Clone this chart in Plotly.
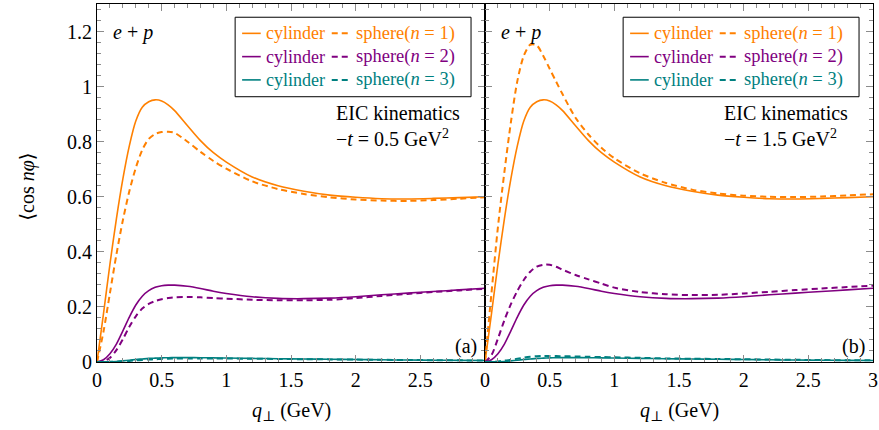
import plotly.graph_objects as go
from plotly.subplots import make_subplots

# ---------------- data ----------------
q = [0, 0.05, 0.1, 0.15, 0.2, 0.25, 0.3, 0.35, 0.4, 0.45, 0.5, 0.55, 0.6, 0.7, 0.8, 0.9,
     1.0, 1.2, 1.4, 1.6, 1.8, 2.0, 2.2, 2.4, 2.6, 2.8, 3.0]

# panel (a): -t = 0.5 GeV^2
cyl1_a = [0, 0.175, 0.355, 0.52, 0.665, 0.785, 0.875, 0.925, 0.945, 0.952, 0.948, 0.934, 0.913,
          0.858, 0.804, 0.76, 0.726, 0.672, 0.64, 0.62, 0.606, 0.598, 0.593, 0.592, 0.594, 0.597, 0.600]
sph1_a = [0, 0.11, 0.25, 0.39, 0.515, 0.62, 0.705, 0.77, 0.81, 0.828, 0.835, 0.836, 0.832,
          0.8, 0.763, 0.73, 0.702, 0.656, 0.628, 0.61, 0.598, 0.59, 0.586, 0.585, 0.588, 0.593, 0.598]
cyl2_a = [0, 0.008, 0.03, 0.065, 0.113, 0.163, 0.207, 0.239, 0.259, 0.271, 0.277, 0.279, 0.279,
          0.275, 0.267, 0.257, 0.249, 0.237, 0.231, 0.230, 0.232, 0.237, 0.244, 0.25, 0.256, 0.262, 0.268]
sph2_a = [0, 0.003, 0.015, 0.043, 0.083, 0.128, 0.166, 0.194, 0.211, 0.221, 0.228, 0.232, 0.235,
          0.236, 0.235, 0.232, 0.23, 0.226, 0.224, 0.224, 0.226, 0.232, 0.24, 0.247, 0.254, 0.26, 0.266]
cyl3_a = [0, 0.0003, 0.001, 0.002, 0.004, 0.0065, 0.009, 0.011, 0.013, 0.014, 0.015, 0.0157, 0.016,
          0.016, 0.0155, 0.015, 0.0145, 0.013, 0.012, 0.011, 0.010, 0.009, 0.008, 0.007, 0.0065, 0.006, 0.0055]
sph3_a = [0, 0.0001, 0.0005, 0.001, 0.002, 0.004, 0.006, 0.0075, 0.009, 0.010, 0.011, 0.012, 0.0125,
          0.013, 0.013, 0.0128, 0.0125, 0.012, 0.011, 0.0102, 0.0095, 0.0088, 0.008, 0.0072, 0.0066, 0.006, 0.0055]

# panel (b): -t = 1.5 GeV^2
cyl1_b = [0, 0.175, 0.355, 0.52, 0.665, 0.785, 0.875, 0.925, 0.945, 0.952, 0.948, 0.934, 0.913,
          0.858, 0.804, 0.76, 0.726, 0.672, 0.64, 0.62, 0.606, 0.598, 0.593, 0.592, 0.594, 0.597, 0.600]
sph1_b = [0, 0.25, 0.49, 0.69, 0.87, 1.02, 1.112, 1.152, 1.15, 1.112, 1.065, 1.018, 0.972,
          0.887, 0.826, 0.778, 0.74, 0.685, 0.65, 0.626, 0.612, 0.604, 0.600, 0.599, 0.601, 0.605, 0.609]
cyl2_b = [0, 0.008, 0.03, 0.065, 0.113, 0.163, 0.207, 0.239, 0.259, 0.271, 0.277, 0.279, 0.279,
          0.275, 0.267, 0.257, 0.249, 0.237, 0.231, 0.230, 0.232, 0.237, 0.244, 0.25, 0.256, 0.262, 0.268]
sph2_b = [0, 0.025, 0.085, 0.152, 0.21, 0.258, 0.298, 0.328, 0.346, 0.353, 0.353, 0.346, 0.335,
          0.316, 0.3, 0.285, 0.27, 0.254, 0.246, 0.243, 0.244, 0.249, 0.255, 0.261, 0.267, 0.272, 0.277]
cyl3_b = [0, 0.0003, 0.001, 0.002, 0.004, 0.0065, 0.009, 0.011, 0.013, 0.014, 0.015, 0.0157, 0.016,
          0.016, 0.0155, 0.015, 0.0145, 0.013, 0.012, 0.011, 0.010, 0.009, 0.008, 0.007, 0.0065, 0.006, 0.0055]
sph3_b = [0, 0.0005, 0.002, 0.005, 0.008, 0.012, 0.016, 0.019, 0.021, 0.022, 0.022, 0.0215, 0.021,
          0.020, 0.019, 0.018, 0.017, 0.015, 0.013, 0.012, 0.011, 0.010, 0.009, 0.008, 0.007, 0.0065, 0.006]

x_ticks_a = [0, 0.5, 1, 1.5, 2, 2.5]
x_ticks_b = [0, 0.5, 1, 1.5, 2, 2.5, 3]
y_ticks = [0, 0.2, 0.4, 0.6, 0.8, 1.0, 1.2]
y_ticklabels = ["0", "0.2", "0.4", "0.6", "0.8", "1", "1.2"]
t_values = ["0.5", "1.5"]
panel_tags = ["(a)", "(b)"]

ORANGE = "#ff8000"
PURPLE = "#800080"
TEAL = "#008080"
colors = [ORANGE, PURPLE, TEAL]
FONT = "Liberation Serif, DejaVu Serif, serif"
DASH = "6px,4px"

fig = make_subplots(rows=1, cols=2, shared_yaxes=True, horizontal_spacing=0)

panels = [
    [(cyl1_a, sph1_a), (cyl2_a, sph2_a), (cyl3_a, sph3_a)],
    [(cyl1_b, sph1_b), (cyl2_b, sph2_b), (cyl3_b, sph3_b)],
]
for col, series in enumerate(panels, start=1):
    for (cyl, sph), c in zip(series, colors):
        fig.add_trace(go.Scatter(x=q, y=cyl, mode="lines", line=dict(color=c, width=1.6, shape="spline", smoothing=0.8),
                                 showlegend=False, hoverinfo="skip"), row=1, col=col)
        fig.add_trace(go.Scatter(x=q, y=sph, mode="lines", line=dict(color=c, width=2, dash=DASH, shape="spline", smoothing=0.8),
                                 showlegend=False, hoverinfo="skip"), row=1, col=col)

axis_common = dict(
    showline=True, linecolor="black", linewidth=1, mirror="allticks",
    ticks="inside", ticklen=7, tickcolor="#8c8c8c", tickwidth=1,
    showgrid=False, zeroline=False, automargin=False,
    tickfont=dict(family=FONT, size=20, color="black"),
)
fig.update_xaxes(**axis_common, range=[0, 3],
                 minor=dict(ticks="inside", ticklen=4, tickcolor="#8c8c8c", dtick=0.1, showgrid=False))
fig.update_xaxes(tickvals=x_ticks_a, ticktext=[f"{v:g}" for v in x_ticks_a], row=1, col=1)
fig.update_xaxes(tickvals=x_ticks_b, ticktext=[f"{v:g}" for v in x_ticks_b], row=1, col=2)
fig.update_yaxes(**axis_common, range=[0, 1.3], tickvals=y_ticks, ticktext=y_ticklabels,
                 minor=dict(ticks="inside", ticklen=4, tickcolor="#8c8c8c", dtick=0.04, tick0=0, showgrid=False))
fig.update_yaxes(showticklabels=False, row=1, col=2)

shapes = []
annotations = []
row_y = [0.918, 0.853, 0.788]
for p, (xr, yr) in enumerate([("x domain", "y domain"), ("x2 domain", "y2 domain")]):
    shapes.append(dict(type="rect", xref=xr, yref=yr, x0=0.356, x1=0.964, y0=0.741, y1=0.963,
                       line=dict(color="black", width=1), fillcolor="white", layer="above"))
    for i, (yy, c) in enumerate(zip(row_y, colors)):
        shapes.append(dict(type="line", xref=xr, yref=yr, x0=0.374, x1=0.422, y0=yy, y1=yy,
                           line=dict(color=c, width=1.6), layer="above"))
        shapes.append(dict(type="line", xref=xr, yref=yr, x0=0.605, x1=0.654, y0=yy, y1=yy,
                           line=dict(color=c, width=2, dash=DASH), layer="above"))
        annotations.append(dict(xref=xr, yref=yr, x=0.431, y=yy, text="cylinder", showarrow=False,
                                xanchor="left", yanchor="middle", font=dict(family=FONT, size=18, color=c)))
        annotations.append(dict(xref=xr, yref=yr, x=0.662, y=yy, text=f"sphere(<i>n</i> = {i+1})", showarrow=False,
                                xanchor="left", yanchor="middle", font=dict(family=FONT, size=18.5, color=c)))
    annotations.append(dict(xref=xr, yref=yr, x=0.036, y=0.919, text="<i>e</i> + <i>p</i>", showarrow=False,
                            xanchor="left", yanchor="middle", font=dict(family=FONT, size=20, color="black")))
    annotations.append(dict(xref=xr, yref=yr, x=0.611, y=0.658,
                            text=f"EIC kinematics<br>−<i>t</i> = {t_values[p]} GeV<sup>2</sup>",
                            showarrow=False, xanchor="left", yanchor="middle", align="left",
                            font=dict(family=FONT, size=20, color="black")))
    annotations.append(dict(xref=xr, yref=yr, x=0.985, y=0.042, text=panel_tags[p], showarrow=False,
                            xanchor="right", yanchor="middle", font=dict(family=FONT, size=20, color="black")))
    annotations.append(dict(xref=xr, yref="paper", x=0.5, y=-0.139, text="<i>q</i><sub>⊥</sub> (GeV)",
                            showarrow=False, xanchor="center", yanchor="middle",
                            font=dict(family=FONT, size=20, color="black")))

annotations.append(dict(xref="paper", yref="paper", x=-0.09, y=0.49, text="⟨cos <i>nφ</i>⟩",
                        showarrow=False, textangle=-90, xanchor="center", yanchor="middle",
                        font=dict(family=FONT, size=20, color="black")))

fig.update_layout(
    width=879, height=430,
    margin=dict(l=97, r=6, t=4, b=68, autoexpand=False),
    plot_bgcolor="white", paper_bgcolor="white",
    shapes=shapes, annotations=annotations,
    showlegend=False,
)

fig.write_html("out.html", config={"displayModeBar": False},
               post_script="document.body.style.margin='0px';document.body.style.overflow='hidden';")
